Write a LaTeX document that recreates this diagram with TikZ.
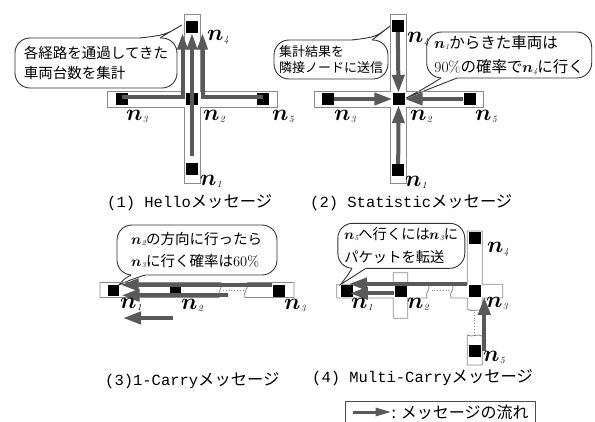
\documentclass[tikz,border=0pt]{standalone}
\usepackage{fontspec}
\usetikzlibrary{arrows.meta,calc}
\newfontfamily\jpf{Noto Sans CJK JP}
\newfontfamily\monof{Liberation Mono}
\newfontfamily\lmm{Latin Modern Math}
\definecolor{arrowgrey}{HTML}{595959}
\definecolor{roadgrey}{HTML}{8C8C8C}
\definecolor{bubblec}{HTML}{333333}
\newcommand\nl[1]{{\lmm 𝒏}\kern0.2pt\raisebox{-2pt}{\fontsize{9.5}{9.5}\selectfont\normalfont\itshape #1}}
\newcommand\bn[1]{{\lmm 𝒏}\kern-0.3pt\raisebox{-1pt}{\fontsize{7.5}{7.5}\selectfont\normalfont\itshape #1}}
\tikzset{
  road/.style={draw=roadgrey, line width=0.8pt},
  dotroad/.style={draw=roadgrey, dotted, line width=0.8pt},
  sq/.style={fill=black, minimum size=12pt, inner sep=0pt},
  msg/.style={draw=arrowgrey, line width=4pt, -{Triangle[length=18pt,width=12pt]}},
  msgthin/.style={draw=arrowgrey, line width=4pt, -{Triangle[length=17pt,width=10pt]}},
  legarrow/.style={draw=arrowgrey, line width=3pt, -{Triangle[length=16pt,width=8pt]}},
  bubble/.style={draw=bubblec, fill=white, rounded corners=15pt, line width=0.9pt, align=left, inner sep=0pt},
  tailline/.style={draw=bubblec, line width=0.9pt},
  nlab/.style={inner sep=0pt, font=\fontsize{23}{23}\selectfont},
  capt/.style={anchor=west, inner sep=0pt, font=\monof\fontsize{15.5}{18}\selectfont}
}
\newcommand\kana[1]{{\jpf\fontsize{16.3}{18}\selectfont #1}}
\begin{document}
\begin{tikzpicture}[x=1pt,y=-1pt]
\useasboundingbox (0,0) rectangle (595,421);
\fill[white] (0,0) rectangle (595,421);

% ---------- bubbles ----------
\node[bubble, minimum width=162pt, minimum height=50pt, font=\jpf\fontsize{14.5}{20}\selectfont] (b1) at (96,63) {各経路を通過してきた\\車両台数を集計};
\node[bubble, minimum width=114pt, minimum height=39pt, font=\jpf\fontsize{13}{16}\selectfont] (b2) at (331,59.5) {集計結果を\\隣接ノードに送信};
\node[bubble, minimum width=165pt, minimum height=46pt, font=\jpf\fontsize{15.5}{24}\selectfont] (b3) at (509.2,55) {\bn{1}からきた車両は\\{\normalfont 90\%}の確率で\bn{4}に行く};
\node[bubble, minimum width=160pt, minimum height=50pt, font=\jpf\fontsize{14.5}{21.7}\selectfont] (b4) at (197,250) {\bn{2}の方向に行ったら\\\bn{3}に行く確率は{\normalfont 60\%}};
\node[bubble, minimum width=127pt, minimum height=45pt, font=\jpf\fontsize{14.3}{22.6}\selectfont] (b5) at (401.3,245.8) {\bn{5}へ行くには\bn{3}に\\パケットを転送};

% ---------- nodes (squares) ----------
\node[sq] (p1n4) at (192,26.5) {};
\node[sq] (p1n2) at (192,98.5) {};
\node[sq] (p1n3) at (121.5,99) {};
\node[sq] (p1n5) at (263,99) {};
\node[sq] (p1n1) at (192,169) {};

\node[sq] (p2n4) at (397.8,26) {};
\node[sq] (p2n2) at (398.5,99) {};
\node[sq] (p2n3) at (328,99) {};
\node[sq] (p2n5) at (469.5,99) {};
\node[sq] (p2n1) at (398.2,170) {};

\node[sq, minimum size=11pt] (p3n1) at (113,290.8) {};
\node[sq, minimum width=11pt, minimum height=7.5pt] (p3n2) at (175.5,289.5) {};
\node[sq] (p3n3) at (278.5,290.8) {};

\node[sq] (p4n4) at (475,237.7) {};
\node[sq] (p4n1) at (346.7,290.7) {};
\node[sq] (p4n2) at (400.5,290.7) {};
\node[sq] (p4n3) at (475,290.7) {};
\node[sq] (p4n5) at (475,350.7) {};

% ---------- tails ----------
\fill[white] (140,38) .. controls (165,35) .. (182,25) .. controls (168,33) .. (160,38) -- (160,41) -- (140,41) -- cycle;
\draw[tailline] (140,38) .. controls (165,35) .. (182,25) .. controls (168,33) .. (160,38);

\fill[white] (352,40) .. controls (376,37) .. ([xshift=-1.5pt]p2n4.west) .. controls (380,34) .. (372,40) -- (372,43) -- (352,43) -- cycle;
\draw[tailline] (352,40) .. controls (376,37) .. ([xshift=-1.5pt]p2n4.west) .. controls (380,34) .. (372,40);

\fill[white] (441,78) .. controls (425,88) .. ([xshift=1.5pt,yshift=1pt]p2n2.east) .. controls (432,88) .. (457,78) -- (457,75) -- (441,75) -- cycle;
\draw[tailline] (441,78) .. controls (425,88) .. ([xshift=1.5pt,yshift=1pt]p2n2.east) .. controls (432,88) .. (457,78);

\fill[white] (131,275) .. controls (124,279) .. (p3n1.north east) .. controls (130,280) .. (145,275) -- (145,272) -- (131,272) -- cycle;
\draw[tailline] (131,275) .. controls (124,279) .. (p3n1.north east) .. controls (130,280) .. (145,275);

\fill[white] (352,268.3) .. controls (348,275) .. (p4n1.north west) .. controls (354,276) .. (366,268.3) -- (366,265.3) -- (352,265.3) -- cycle;
\draw[tailline] (352,268.3) .. controls (348,275) .. (p4n1.north west) .. controls (354,276) .. (366,268.3);

% ---------- roads ----------
\draw[road] (184,14) -- (200.7,14) -- (200.7,91) -- (277,91) -- (277,107) -- (200.7,107) -- (200.7,183) -- (184,183) -- (184,107) -- (107,107) -- (107,91) -- (184,91) -- cycle;
\draw[road] (390.7,14) -- (406.7,14) -- (406.7,91) -- (483.3,91) -- (483.3,107) -- (406.7,107) -- (406.7,183) -- (390.7,183) -- (390.7,107) -- (314.3,107) -- (314.3,91) -- (390.7,91) -- cycle;

\draw[road] (221,282.5) -- (100,282.5) -- (100,297.5) -- (219,297.5) .. controls (216,292) and (224,288) .. (221,282.5);
\draw[road] (247,282.5) -- (294,282.5) -- (294,297.5) -- (245,297.5) .. controls (242,292) and (250,288) .. (247,282.5);
\draw[dotroad] (223,290) -- (243,290);

\draw[road] (428,284.3) -- (407.7,284.3) -- (407.7,272.7) -- (393.3,272.7) -- (393.3,284.3) -- (336.7,284.3) -- (336.7,298) -- (393.3,298) -- (393.3,318.3) -- (407.7,318.3) -- (407.7,298) -- (427,298) .. controls (424,293) and (432,289) .. (428,284.3);
\draw[road] (452,284.3) -- (467.3,284.3) -- (467.3,231) -- (482.3,231) -- (482.3,284.3) -- (502.7,284.3) -- (502.7,298) -- (482.3,298) -- (482.3,311) .. controls (477,308) and (472,313) .. (467.3,309) -- (467.3,298) -- (451,298) .. controls (448,293) and (456,289) .. (452,284.3);
\draw[road] (467.3,335) .. controls (472,338) and (477,333) .. (482.3,336) -- (482.3,365) -- (467.3,365) -- cycle;
\draw[dotroad] (431.5,290.7) -- (449.5,290.7);
\draw[dotroad] (474.5,312) -- (474.5,333);

% ---------- arrows ----------
\draw[msgthin, shorten <=7pt] (p1n1.north) -- (p1n4.south);
\draw[msgthin] ([yshift=2.5pt]p1n3.center) -| ([xshift=-9.5pt]p1n4.south);
\draw[msgthin] ([yshift=2.5pt]p1n5.center) -| ([xshift=10.5pt]p1n4.south);

\draw[msg] (p2n4.south) -- (p2n2.north);
\draw[msg] (p2n3.east) -- (p2n2.west);
\draw[msg] (p2n5.west) -- (p2n2.east);
\draw[msg] (p2n1.north) -- (p2n2.south);

\draw[msg] ([yshift=6pt]p3n3.west) -- ([yshift=6pt,xshift=2pt]p3n1.east);
\coordinate (p3s) at (228,295.3);
\draw[msg] (p3s) -- ([yshift=-4.5pt,xshift=3pt]p3n1.east);
\coordinate (p3a) at (173,318);
\coordinate (p3b) at (123,318);
\draw[msg] (p3a) -- (p3b);

\draw[msg] ([xshift=-1.7pt,yshift=6.7pt]p4n3.west) -- ([yshift=6.7pt,xshift=-4pt]p4n1.east);
\draw[msg] ([yshift=-2.6pt]p4n2.west) -- ([yshift=-2.6pt,xshift=-3pt]p4n1.east);
\draw[msg] ([xshift=9.3pt]p4n5.center) -- ([xshift=9.3pt]p4n3.south);

% ---------- labels ----------
\node[nlab] (l1n4) at (218,37) {\nl{4}};
\node[nlab] (l1n3) at (137,116) {\nl{3}};
\node[nlab] (l1n2) at (214,116) {\nl{2}};
\node[nlab] (l1n5) at (283,116) {\nl{5}};
\node[nlab] (l1n1) at (211,181) {\nl{1}};

\node[nlab] (l2n4) at (418,39) {\nl{4}};
\node[nlab] (l2n3) at (345,116) {\nl{3}};
\node[nlab] (l2n2) at (421,116) {\nl{2}};
\node[nlab] (l2n5) at (486,116) {\nl{5}};
\node[nlab] (l2n1) at (416,182) {\nl{1}};

\node[nlab] (l3n1) at (131,304.5) {\nl{1}};
\node[nlab] (l3n2) at (192,305) {\nl{2}};
\node[nlab] (l3n3) at (295,305) {\nl{3}};

\node[nlab] (l4n4) at (498,249) {\nl{4}};
\node[nlab] (l4n1) at (362,304) {\nl{1}};
\node[nlab] (l4n2) at (418,304) {\nl{2}};
\node[nlab] (l4n3) at (497,303) {\nl{3}};
\node[nlab] (l4n5) at (494,357) {\nl{5}};

% ---------- captions ----------
\node[capt] (cap1) at (107,203) {(1) Hello\kana{メッセージ}};
\node[capt] (cap2) at (310,203) {(2) Statistic\kana{メッセージ}};
\node[capt] (cap3) at (105,381) {(3)1-Carry\kana{メッセージ}};
\node[capt] (cap4) at (312,378) {(4) Multi-Carry\kana{メッセージ}};

% ---------- legend ----------
\draw[road, draw=black!70] (345,422) -- (345,401.7) -- (535,401.7) -- (535,422);
\coordinate (lg1) at (353,412);
\coordinate (lg2) at (391.5,412);
\draw[legarrow] (lg1) -- (lg2);
\node[anchor=west, inner sep=0pt, font=\jpf\fontsize{16}{18}\selectfont] (lgt) at (391.5,412) {: メッセージの流れ};
\end{tikzpicture}
\end{document}
